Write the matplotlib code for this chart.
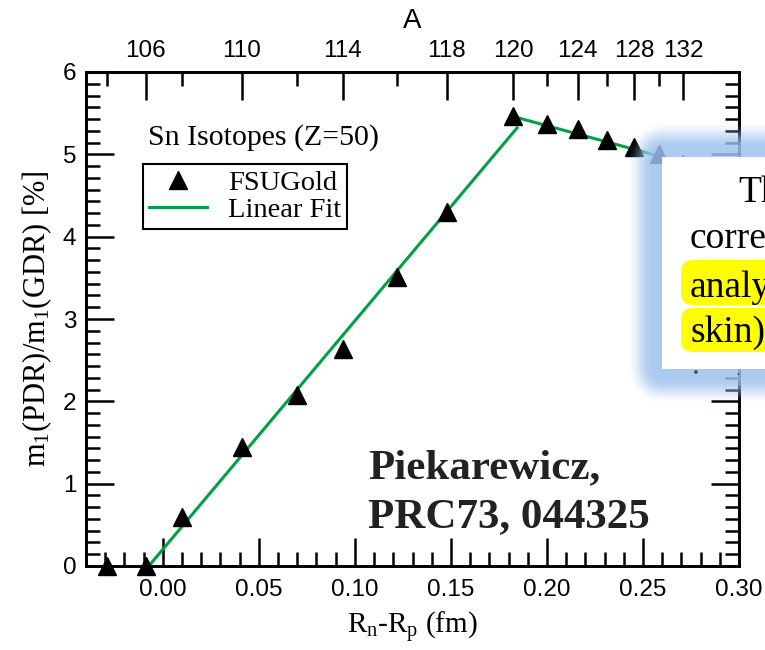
import numpy as np
import matplotlib
import matplotlib.pyplot as plt
from matplotlib.ticker import MultipleLocator, AutoMinorLocator, FixedLocator
from matplotlib.patches import FancyBboxPatch
from matplotlib.transforms import IdentityTransform, Bbox

plt.rcParams['font.family'] = ['Liberation Sans', 'DejaVu Sans']
plt.rcParams['mathtext.fontset'] = 'custom'
plt.rcParams['mathtext.rm'] = 'Liberation Serif'
plt.rcParams['mathtext.it'] = 'Liberation Serif:italic'
SERIF = ['Liberation Serif', 'DejaVu Serif']

# Sn isotopes, FSUGold
mass_A = [104, 106, 108, 110, 112, 114, 116, 118, 120, 122, 124, 126, 128, 130, 132]
rskin = [-0.029, -0.009, 0.0098, 0.0411, 0.0698, 0.0938, 0.1219, 0.1479,
         0.1823, 0.2000, 0.2161, 0.2313, 0.2453, 0.2583, 0.2708]
ratio = [0.0, 0.0, 0.60, 1.445, 2.08, 2.64, 3.51, 4.30,
         5.46, 5.37, 5.31, 5.18, 5.09, 5.00, 4.88]
A_labeled = [106, 110, 114, 118, 120, 124, 128, 132]

# linear fits
fit1_x = [-0.0073, 0.1844]
fit1_y = [0.0, 5.32]
fit2_x = [0.1823, 0.2708]
fit2_y = [5.46, 4.90]

W, H = 765, 650
fig = plt.figure(figsize=(W / 100, H / 100), dpi=100)
ax = fig.add_axes([86 / W, 1 - 566 / H, (739 - 86) / W, (566 - 72) / H])

green = '#00a046'
ax.plot(fit1_x, fit1_y, color=green, lw=2.2, zorder=2)
ax.plot(fit2_x, fit2_y, color=green, lw=2.2, zorder=2, label='Linear Fit')
ax.plot(rskin, ratio, ls='none', marker='^', ms=12.5, color='black', zorder=3,
        clip_on=False, label='FSUGold')

ax.set_xlim(-0.04, 0.30)
ax.set_ylim(0, 6)
ax.xaxis.set_major_locator(MultipleLocator(0.05))
ax.xaxis.set_minor_locator(MultipleLocator(0.01))
ax.yaxis.set_major_locator(MultipleLocator(1))
ax.yaxis.set_minor_locator(AutoMinorLocator(7))
ax.xaxis.set_major_formatter(matplotlib.ticker.FormatStrFormatter('%.2f'))
ax.tick_params(which='both', direction='in', top=False, right=True, width=1.8, labelsize=17.5)
ax.tick_params(which='major', length=20)
ax.tick_params(which='minor', length=10)
ax.tick_params(axis='x', pad=9)
ax.tick_params(axis='y', pad=7)
for s in ax.spines.values():
    s.set_linewidth(2.0)

ax.set_xlabel(r'R$_{\rm n}$-R$_{\rm p}$ (fm)', family=SERIF, fontsize=21, labelpad=7)
ax.set_ylabel(r'm$_1$(PDR)/m$_1$(GDR) [%]', family=SERIF, fontsize=22, labelpad=6)

# top axis in mass number
ax2 = ax.twiny()
ax2.set_xlim(ax.get_xlim())
maj = [x for x, a in zip(rskin, mass_A) if a in A_labeled]
mnr = [x for x, a in zip(rskin, mass_A) if a not in A_labeled]
ax2.xaxis.set_major_locator(FixedLocator(maj))
ax2.xaxis.set_minor_locator(FixedLocator(mnr))
ax2.set_xticklabels([str(a) for a in A_labeled])
ax2.tick_params(which='both', direction='in', width=1.8, labelsize=17.5, pad=7)
ax2.tick_params(which='major', length=20)
ax2.tick_params(which='minor', length=10)
ax2.set_xlabel('A', fontsize=20, labelpad=9)
for s in ax2.spines.values():
    s.set_linewidth(2.0)

# legend, triangles first
h, l = ax.get_legend_handles_labels()
leg = ax.legend(h[::-1], l[::-1], loc='upper left', bbox_to_anchor=(0.0873, 0.8138),
                prop={'family': SERIF, 'size': 20.5}, frameon=True, fancybox=False,
                edgecolor='black', framealpha=1, borderpad=0.2, labelspacing=0.05,
                handlelength=2.05, handletextpad=0.75, borderaxespad=0)
leg.get_frame().set_linewidth(1.5)

ax.text(0.095, 0.852, 'Sn Isotopes (Z=50)', transform=ax.transAxes, family=SERIF,
        fontsize=21.5, va='baseline')
ax.text(0.1068, 1.07, 'Piekarewicz,', transform=ax.transData, family=SERIF,
        fontsize=31, fontweight='bold', va='baseline', color='#222222')
ax.text(0.1068, 0.474, 'PRC73, 044325', transform=ax.transData, family=SERIF,
        fontsize=31, fontweight='bold', va='baseline', color='#222222')

# overlaid slide box with blue glow
yy, xx = np.mgrid[0:H, 0:W]
x0, x1, y0, y1 = 662, 900, 157, 368
dx = np.maximum(np.maximum(x0 - xx, xx - x1), 0)
dy = np.maximum(np.maximum(y0 - yy, yy - y1), 0)
d = np.hypot(dx, dy)
t = np.clip((36 - d) / 26, 0, 1)
t = t * t * (3 - 2 * t)
img = np.zeros((H, W, 4))
img[..., 0] = 0.62
img[..., 1] = 0.76
img[..., 2] = 0.94
img[..., 3] = 0.85 * t
inside = (dx == 0) & (dy == 0)
img[inside] = [1, 1, 1, 1]
fig.figimage(img, origin='upper', zorder=5)

for top, bot in [(260, 305), (308, 352)]:
    p = FancyBboxPatch((681, H - bot), 200, bot - top,
                       boxstyle='round,pad=0,rounding_size=12',
                       transform=IdentityTransform(), facecolor='#ffff00',
                       edgecolor='none', zorder=6)
    fig.add_artist(p)

# visible part of the slide text
slide = [('Th', 738, 202), ('corre', 690, 248),
         ('analy', 690, 297), ('skin)', 690, 342)]
for s, x, y in slide:
    fig.text(x / W, 1 - y / H, s, family=SERIF, fontsize=27, va='baseline', zorder=7)

frag = fig.text(690 / W, 1 - 395 / H, 'isoto', family=SERIF, fontsize=27,
                va='baseline', zorder=7, color='#555555')
frag.set_clip_box(Bbox.from_extents(0, H - 375, W, H - 362))
frag.set_clip_on(True)

fig.savefig('out.png', dpi=100)
